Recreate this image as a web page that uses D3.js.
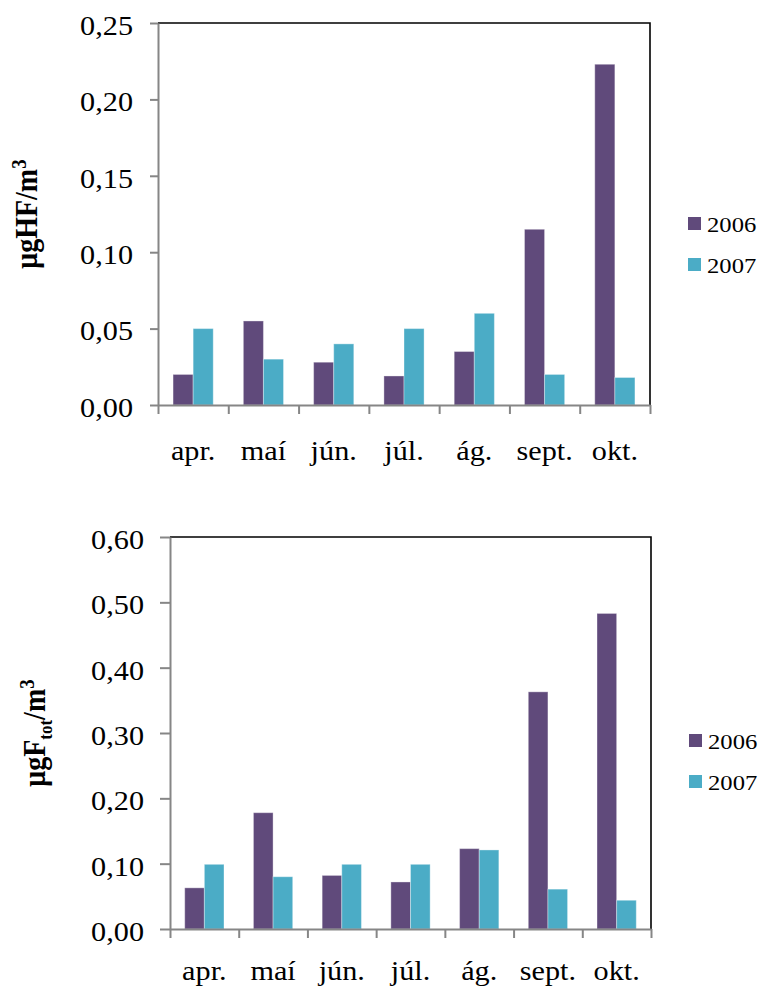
<!DOCTYPE html>
<html>
<head>
<meta charset="utf-8">
<script src="https://cdn.jsdelivr.net/npm/d3@7"></script>
<style>
body { margin: 0; background: #fff; }
text { font-family: "Liberation Serif", "Times New Roman", serif; fill: #000; }
</style>
</head>
<body>
<div id="chart"></div>
<script>
// data
var months = ["apr.", "maí", "jún.", "júl.", "ág.", "sept.", "okt."];
var years = ["2006", "2007"];
var hf2006 = [0.020, 0.055, 0.028, 0.019, 0.035, 0.115, 0.223];
var hf2007 = [0.050, 0.030, 0.040, 0.050, 0.060, 0.020, 0.018];
var ftot2006 = [0.063, 0.178, 0.082, 0.072, 0.123, 0.363, 0.483];
var ftot2007 = [0.099, 0.080, 0.099, 0.099, 0.121, 0.061, 0.044];
var hfTicks = [0, 0.05, 0.10, 0.15, 0.20, 0.25];
var ftotTicks = [0, 0.10, 0.20, 0.30, 0.40, 0.50, 0.60];

var colors = ["#604a7b", "#4bacc6"];
var axisGray = "#868686";
var sx = 1.12; // text in the picture is a bit wide

var svg = d3.select("#chart")
    .append("svg")
    .attr("width", 762)
    .attr("height", 987);

function drawChart(opt) {
    var x = d3.scaleBand().domain(months).range([opt.left, opt.right]);
    var x1 = d3.scaleBand().domain(years).range([0, x.bandwidth()]).paddingOuter(0.75);
    var y = d3.scaleLinear().domain([0, d3.max(opt.ticks)]).range([opt.bottom, opt.top]);

    var g = svg.append("g");

    var rows = months.map(function(m, i) {
        return { month: m, values: [opt.s2006[i], opt.s2007[i]] };
    });

    //bars
    g.selectAll("g.grp")
        .data(rows)
        .enter()
        .append("g")
        .attr("class", "grp")
        .attr("transform", function(d) { return "translate(" + x(d.month) + ",0)"; })
        .selectAll("rect")
        .data(function(d) { return d.values.map(function(v, k) { return { year: years[k], value: v, k: k }; }); })
        .enter()
        .append("rect")
        .attr("x", function(d) { return x1(d.year); })
        .attr("y", function(d) { return y(d.value); })
        .attr("width", x1.bandwidth())
        .attr("height", function(d) { return opt.bottom - y(d.value); })
        .attr("fill", function(d) { return colors[d.k]; })
        .attr("stroke", "rgba(255,255,255,0.35)")
        .attr("stroke-width", 1);

    //black border top and right
    g.append("path")
        .attr("d", "M" + opt.left + "," + opt.top + "H" + opt.right + "V" + opt.bottom)
        .attr("fill", "none")
        .attr("stroke", "#000")
        .attr("stroke-width", 1.6);

    //y axis
    var yAxis = d3.axisLeft(y)
        .tickValues(opt.ticks)
        .tickSize(opt.tick)
        .tickSizeOuter(0)
        .tickPadding(opt.pad)
        .tickFormat(function(d) { return d3.format(".2f")(d).replace(".", ","); });

    var ya = g.append("g")
        .attr("transform", "translate(" + opt.left + ",0)")
        .attr("font-family", null)
        .call(yAxis);
    ya.select(".domain").attr("stroke", axisGray).attr("stroke-width", 2);
    ya.selectAll(".tick line").attr("stroke", axisGray).attr("stroke-width", 2);
    ya.selectAll(".tick text")
        .attr("font-size", 27)
        .attr("dy", "0.42em")
        .attr("transform", function() {
            return "translate(" + d3.select(this).attr("x") + ",0) scale(" + sx + ",1)";
        })
        .attr("x", 0);

    //x axis with ticks between the months
    var xb = d3.scaleLinear().domain([0, months.length]).range([opt.left, opt.right]);
    var xa = g.append("g")
        .attr("transform", "translate(0," + opt.bottom + ")")
        .call(d3.axisBottom(xb).ticks(months.length).tickSize(9).tickSizeOuter(0).tickFormat(""));
    xa.select(".domain").attr("stroke", axisGray).attr("stroke-width", 2);
    xa.selectAll(".tick line").attr("stroke", axisGray).attr("stroke-width", 2);

    var xl = g.append("g")
        .attr("transform", "translate(0," + opt.bottom + ")")
        .call(d3.axisBottom(x).tickSize(0).tickPadding(opt.labelPad));
    xl.select(".domain").remove();
    xl.selectAll(".tick text")
        .attr("font-size", 27)
        .attr("transform", "scale(" + sx + ",1)");

    //legend
    var lg = g.selectAll("g.leg")
        .data(years)
        .enter()
        .append("g")
        .attr("class", "leg")
        .attr("transform", function(d, i) { return "translate(" + opt.legX + "," + (opt.legY + i * opt.legGap) + ")"; });
    lg.append("rect")
        .attr("width", 13)
        .attr("height", 13)
        .attr("fill", function(d, i) { return colors[i]; });
    lg.append("text")
        .attr("transform", "translate(19,14.5) scale(" + sx + ",1)")
        .attr("font-size", 22)
        .text(function(d) { return d; });

    //y axis title
    var t = g.append("text")
        .attr("transform", "translate(" + opt.titleX + "," + ((opt.top + opt.bottom) / 2) + ") scale(" + sx + ",1) rotate(-90)")
        .attr("text-anchor", "middle")
        .attr("font-size", 28)
        .attr("font-weight", "bold");
    opt.title(t);
}

drawChart({
    s2006: hf2006, s2007: hf2007, ticks: hfTicks,
    left: 158, right: 650, top: 23, bottom: 405,
    tick: 8, pad: 17, labelPad: 36,
    legX: 688, legY: 217, legGap: 41,
    titleX: 37,
    title: function(t) {
        t.append("tspan").text("μgHF/m");
        t.append("tspan").attr("dy", -10).attr("font-size", 19).text("3");
    }
});

drawChart({
    s2006: ftot2006, s2007: ftot2007, ticks: ftotTicks,
    left: 170, right: 651, top: 537, bottom: 929,
    tick: 10, pad: 16, labelPad: 32,
    legX: 689, legY: 734, legGap: 41,
    titleX: 45,
    title: function(t) {
        t.append("tspan").text("μgF");
        t.append("tspan").attr("dy", 6).attr("font-size", 17).text("tot");
        t.append("tspan").attr("dy", -6).text("/m");
        t.append("tspan").attr("dy", -10).attr("font-size", 19).text("3");
    }
});
</script>
</body>
</html>
